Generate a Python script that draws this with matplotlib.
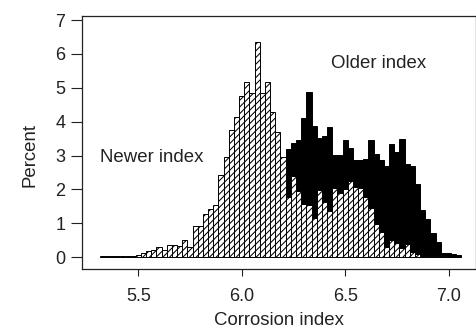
import numpy as np
import matplotlib
matplotlib.use('Agg')
import matplotlib.pyplot as plt

plt.rcParams['font.family'] = 'Liberation Sans'
plt.rcParams['hatch.linewidth'] = 0.75

# histogram bins (0.025 wide, first left edge at 5.3125)
bin_lo: float = 5.3125
bin_w: float = 0.025

# percent per bin, newer index (hatched)
newer = [0.02, 0.02, 0.02, 0.02, 0.02, 0.02, 0.03, 0.07, 0.12, 0.17,
         0.22, 0.30, 0.22, 0.37, 0.37, 0.33, 0.50, 0.31, 0.92, 0.93,
         1.27, 1.43, 1.53, 2.44, 2.96, 3.75, 4.14, 4.75, 5.18, 4.86,
         6.34, 4.85, 5.18, 4.28, 3.69, 2.95, 1.78, 2.40, 1.95, 1.56,
         1.54, 1.15, 1.98, 1.62, 1.36, 2.05, 1.88, 2.01, 2.25, 2.08,
         2.05, 1.78, 1.46, 0.97, 0.75, 0.31, 0.50, 0.41, 0.28, 0.39,
         0.14, 0.08, 0.04, 0.02, 0.02, 0.02, 0.02, 0.01, 0.01, 0.01]

# percent per bin, older index (black)
older = [0.0, 0.0, 0.04, 0.04, 0.04, 0.0, 0.0, 0.0, 0.0, 0.0,
         0.0, 0.0, 0.0, 0.0, 0.0, 0.0, 0.0, 0.0, 0.0, 0.0,
         0.0, 0.0, 0.0, 0.0, 0.0, 0.0, 0.0, 0.0, 0.0, 0.0,
         0.0, 0.0, 0.0, 0.0, 0.0, 0.0, 3.20, 3.37, 3.47, 4.10,
         4.87, 3.88, 3.52, 3.59, 3.83, 3.02, 3.02, 3.47, 3.22, 2.87,
         2.87, 2.90, 3.47, 3.06, 2.87, 2.69, 3.34, 3.10, 3.50, 2.76,
         2.69, 2.15, 1.40, 1.12, 0.72, 0.45, 0.12, 0.12, 0.10, 0.06]

left = bin_lo + bin_w * np.arange(len(newer))

fig = plt.figure(figsize=(4.77, 3.28), dpi=100)
ax = fig.add_axes([0.172, 0.1805, 0.826, 0.7705])

ax.bar(left, older, width=bin_w, align='edge', color='black',
       edgecolor='black', linewidth=0.7)
ax.bar(left, newer, width=bin_w, align='edge', color='white',
       edgecolor='black', linewidth=0.7, hatch='/////')

ax.set_xlim(5.228, 7.133)
ax.set_ylim(-0.345, 7.12)
ax.set_xticks([5.5, 6.0, 6.5, 7.0])
ax.set_xticklabels(['5.5', '6.0', '6.5', '7.0'])
ax.set_yticks(range(8))

txt = '#222222'
ax.tick_params(axis='x', length=5, width=0.8, pad=9, labelsize=13, colors=txt)
ax.tick_params(axis='y', length=8, width=0.8, pad=4, labelsize=13, colors=txt)
for s in ax.spines.values():
    s.set_linewidth(0.9)
    s.set_color('#222222')

ax.set_xlabel('Corrosion index', fontsize=13.4, color=txt)
ax.set_ylabel('Percent', fontsize=13.4, color=txt)
ax.xaxis.set_label_coords(0.5, -0.17)
ax.yaxis.set_label_coords(-0.11, 0.45)

ax.text(5.316, 2.93, 'Newer index', fontsize=13.4, color=txt, va='center')
ax.text(6.432, 5.73, 'Older index', fontsize=13.4, color=txt, va='center')

fig.savefig('out.png', dpi=100)
